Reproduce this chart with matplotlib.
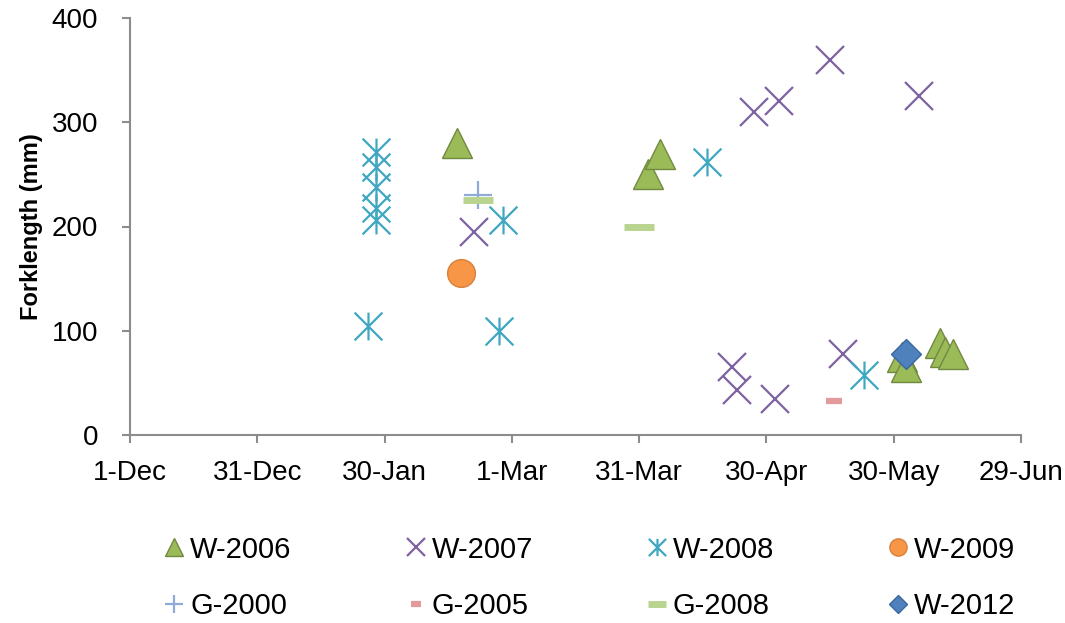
#forklength by capture date, one series per year / gear
import matplotlib
matplotlib.use('Agg')
import matplotlib.pyplot as plt
from matplotlib.path import Path

plt.rcParams['font.family'] = ['Liberation Sans', 'DejaVu Sans']

# days counted from 1-Dec
tick_days = [0, 30, 60, 90, 120, 150, 180, 210]
tick_labels = ['1-Dec', '31-Dec', '30-Jan', '1-Mar', '31-Mar', '30-Apr', '30-May', '29-Jun']
y_ticks = [0, 100, 200, 300, 400]

w2006_day = [77, 122, 125, 182, 183, 191, 192, 194]
w2006_fl = [280, 250, 270, 75, 65, 88, 80, 78]

w2007_day = [81, 147, 153, 165, 186, 142, 143, 152, 168]
w2007_fl = [195, 310, 320, 360, 325, 65, 43, 35, 78]

w2008_day = [58, 58, 58, 58, 58, 56, 88, 87, 136, 173]
w2008_fl = [271, 257, 238, 218, 206, 105, 206, 100, 262, 58]

w2009_day = [78]
w2009_fl = [155]

g2000_day = [82]
g2000_fl = [230]

g2005_day = [166]
g2005_fl = [33]

g2008_day = [82, 120]
g2008_fl = [225, 200]

w2012_day = [183]
w2012_fl = [78]

# excel style asterisk: X with a vertical bar
star = Path([(0, -1), (0, 1), (-1, -1), (1, 1), (-1, 1), (1, -1)],
            [Path.MOVETO, Path.LINETO, Path.MOVETO, Path.LINETO, Path.MOVETO, Path.LINETO])

fig = plt.figure(figsize=(10.65, 6.23), dpi=100)
ax = fig.add_axes([130/1065, 188/623, 891/1065, 417/623])

handles = []
h, = ax.plot(w2006_day, w2006_fl, ls='none', marker='^', ms=21, mfc='#9BBB59', mec='#71893F', mew=1, label='W-2006')
handles.append(h)
h, = ax.plot(w2007_day, w2007_fl, ls='none', marker='x', ms=20, mec='#7E62A1', mew=1.6, label='W-2007')
handles.append(h)
h, = ax.plot(w2008_day, w2008_fl, ls='none', marker=star, ms=20, mec='#3FA7C1', mew=1.6, label='W-2008')
handles.append(h)
h, = ax.plot(w2009_day, w2009_fl, ls='none', marker='o', ms=20, mfc='#F79646', mec='#D9803A', mew=1, label='W-2009')
handles.append(h)
h, = ax.plot(g2000_day, g2000_fl, ls='none', marker='+', ms=20, mec='#8FAAD6', mew=1.6, label='G-2000')
handles.append(h)
h, = ax.plot(g2005_day, g2005_fl, ls='none', marker='_', ms=12, mec='#E39A9A', mew=4.5, label='G-2005')
handles.append(h)
h, = ax.plot(g2008_day, g2008_fl, ls='none', marker='_', ms=21, mec='#B9D48E', mew=5, label='G-2008')
handles.append(h)
h, = ax.plot(w2012_day, w2012_fl, ls='none', marker='D', ms=15, mfc='#4F81BD', mec='#3A67A0', mew=1, label='W-2012')
handles.append(h)

ax.set_xlim(0, 210)
ax.set_ylim(0, 400)
ax.set_xticks(tick_days)
ax.set_xticklabels(tick_labels)
ax.set_yticks(y_ticks)

for s in ['top', 'right']:
    ax.spines[s].set_visible(False)
for s in ['left', 'bottom']:
    ax.spines[s].set_color('#8C8C8C')
    ax.spines[s].set_linewidth(1.5)
ax.tick_params(axis='both', colors='#8C8C8C', length=6, width=1.5, labelsize=20, labelcolor='black')
ax.tick_params(axis='x', pad=12)
ax.tick_params(axis='y', pad=17)

ax.set_ylabel('Forklength (mm)', fontsize=17, fontweight='bold', labelpad=6)

# excel fills the legend row by row, matplotlib column by column
order = [0, 4, 1, 5, 2, 6, 3, 7]
fig.legend([handles[i] for i in order], [handles[i].get_label() for i in order],
           ncol=4, loc='upper left', bbox_to_anchor=(145/1065, 1 - 521/623),
           frameon=False, fontsize=21, markerscale=0.62, handlelength=1.0,
           handletextpad=0.05, columnspacing=3.75, labelspacing=0.98, borderpad=0)

fig.savefig('out.png', dpi=100)
